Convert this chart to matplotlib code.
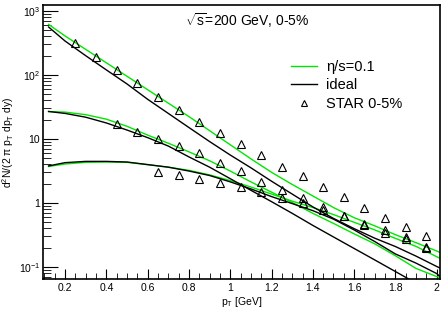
import numpy as np
import matplotlib
matplotlib.use("Agg")
import matplotlib.pyplot as plt
from matplotlib.lines import Line2D
from matplotlib.ticker import FixedLocator, MultipleLocator, LogLocator, NullFormatter

plt.rcParams["font.family"] = ["Liberation Sans", "DejaVu Sans"]
plt.rcParams["mathtext.fontset"] = "custom"
plt.rcParams["mathtext.rm"] = "Liberation Sans"
plt.rcParams["mathtext.it"] = "Liberation Sans:italic"

GREEN = "#00e600"

# --- hydro curves (pT grid shared by all six curves) ---
pt_curve = [0.12, 0.2, 0.3, 0.4, 0.5, 0.6, 0.7, 0.8, 0.9, 1.0, 1.1,
            1.2, 1.3, 1.4, 1.5, 1.6, 1.7, 1.8, 1.9, 2.0, 2.02]
pion_visc = [617, 407, 251, 155, 95.5, 58.9, 36.3, 22.4, 13.5, 8.13, 4.9,
             3.02, 1.95, 1.29, 0.85, 0.59, 0.44, 0.32, 0.24, 0.178, 0.166]
pion_ideal = [562, 339, 200, 120, 72.4, 41.7, 25.1, 15.1, 9.12, 5.62, 3.55,
              2.19, 1.38, 0.87, 0.575, 0.398, 0.282, 0.209, 0.148, 0.102, 0.095]
kaon_visc = [26.9, 26.3, 24.0, 20.4, 15.8, 11.5, 8.6, 6.3, 4.57, 3.16, 2.14,
             1.48, 1.02, 0.69, 0.48, 0.33, 0.23, 0.15, 0.095, 0.071, 0.068]
kaon_ideal = [26.9, 25.1, 21.9, 17.8, 13.8, 10.5, 7.76, 5.25, 3.63, 2.40, 1.58,
              1.05, 0.69, 0.447, 0.295, 0.195, 0.129, 0.085, 0.056, 0.037, 0.034]
prot_visc = [3.72, 4.07, 4.32, 4.37, 4.32, 3.98, 3.63, 3.24, 2.75, 2.24, 1.78,
             1.38, 1.07, 0.85, 0.66, 0.50, 0.38, 0.28, 0.21, 0.145, 0.135]
prot_ideal = [3.80, 4.27, 4.47, 4.47, 4.37, 3.98, 3.63, 3.16, 2.69, 2.14, 1.66,
              1.26, 0.98, 0.76, 0.56, 0.38, 0.25, 0.16, 0.115, 0.079, 0.069]

# --- STAR 0-5% data ---
pt_pion = [0.25, 0.35, 0.45, 0.55, 0.65, 0.75, 0.85, 0.95, 1.05, 1.15,
           1.25, 1.35, 1.45, 1.55, 1.65, 1.75, 1.85, 1.95]
star_pion = [313, 189, 118, 74, 46, 28.4, 18.6, 12.4, 8.26, 5.56,
             3.69, 2.64, 1.76, 1.26, 0.835, 0.59, 0.426, 0.305]
pt_kaon = [0.45, 0.55, 0.65, 0.75, 0.85, 0.95, 1.05, 1.15,
           1.25, 1.35, 1.45, 1.55, 1.65, 1.75, 1.85, 1.95]
star_kaon = [17, 13, 10, 7.86, 5.98, 4.17, 3.16, 2.15,
             1.58, 1.2, 0.875, 0.63, 0.47, 0.38, 0.295, 0.205]
pt_prot = [0.65, 0.75, 0.85, 0.95, 1.05, 1.15, 1.25, 1.35,
           1.45, 1.55, 1.65, 1.75, 1.85, 1.95]
star_prot = [3.02, 2.74, 2.37, 2.07, 1.76, 1.5, 1.21, 0.99,
             0.78, 0.62, 0.46, 0.34, 0.27, 0.195]

fig = plt.figure(figsize=(4.44, 3.09), dpi=100)
ax = fig.add_axes([43 / 444, 1 - 279 / 309, 397 / 444, 274 / 309])

for ys in (pion_visc, kaon_visc, prot_visc):
    ax.plot(pt_curve, ys, color=GREEN, lw=1.0)
for ys in (pion_ideal, kaon_ideal, prot_ideal):
    ax.plot(pt_curve, ys, color="black", lw=1.0)
for xs, ys in ((pt_pion, star_pion), (pt_kaon, star_kaon), (pt_prot, star_prot)):
    ax.plot(xs, ys, ls="none", marker="^", ms=5.2, mfc="none", mec="black", mew=0.8)

ax.set_yscale("log")
ax.set_xlim(0.093, 2.016)
ax.set_ylim(0.065, 1240)

ax.xaxis.set_major_locator(MultipleLocator(0.2))
ax.xaxis.set_minor_locator(MultipleLocator(0.05))
ax.yaxis.set_major_locator(FixedLocator([0.1, 1, 10, 100, 1000]))
ax.yaxis.set_minor_locator(LogLocator(base=10, subs=np.arange(2, 10)))
ax.yaxis.set_minor_formatter(NullFormatter())
ax.set_yticklabels(["$10^{-1}$", "1", "10", "$10^{2}$", "$10^{3}$"])
ax.set_xticks(np.arange(0.2, 2.01, 0.2))
ax.set_xticklabels(["0.2", "0.4", "0.6", "0.8", "1", "1.2", "1.4", "1.6", "1.8", "2"])
ax.tick_params(which="both", direction="in", top=False, right=False, labelsize=7.5)
ax.tick_params(axis="x", which="major", length=7, pad=3)
ax.tick_params(axis="x", which="minor", length=4)
ax.tick_params(axis="y", which="major", length=11, pad=2)
ax.tick_params(axis="y", which="minor", length=6)
for s in ax.spines.values():
    s.set_linewidth(1.2)

ax.set_xlabel("p$_{\\mathrm{T}}$ [GeV]", fontsize=7.5, labelpad=1)
ax.set_ylabel("d$^{2}$N/(2 \u03c0 p$_{\\mathrm{T}}$ dp$_{\\mathrm{T}}$ dy)", fontsize=7.5, labelpad=2)

fig.text(185 / 444, 1 - 21 / 309, "$\\sqrt{\\mathrm{s}}$=200 GeV, 0-5%", fontsize=10,
         va="center", ha="left")

handles = [Line2D([], [], color=GREEN, lw=1.0),
           Line2D([], [], color="black", lw=1.0),
           Line2D([], [], ls="none", marker="^", ms=3.8, mfc="none", mec="black", mew=0.8)]
labels = ["\u03b7/s=0.1", "ideal", "STAR 0-5%"]
fig.legend(handles, labels, loc="upper left", bbox_to_anchor=(291 / 444, 1 - 60 / 309),
           frameon=False, fontsize=10.5, handlelength=1.8, handletextpad=0.6,
           labelspacing=0.3, borderpad=0, borderaxespad=0)

fig.savefig("out.png", dpi=100)
